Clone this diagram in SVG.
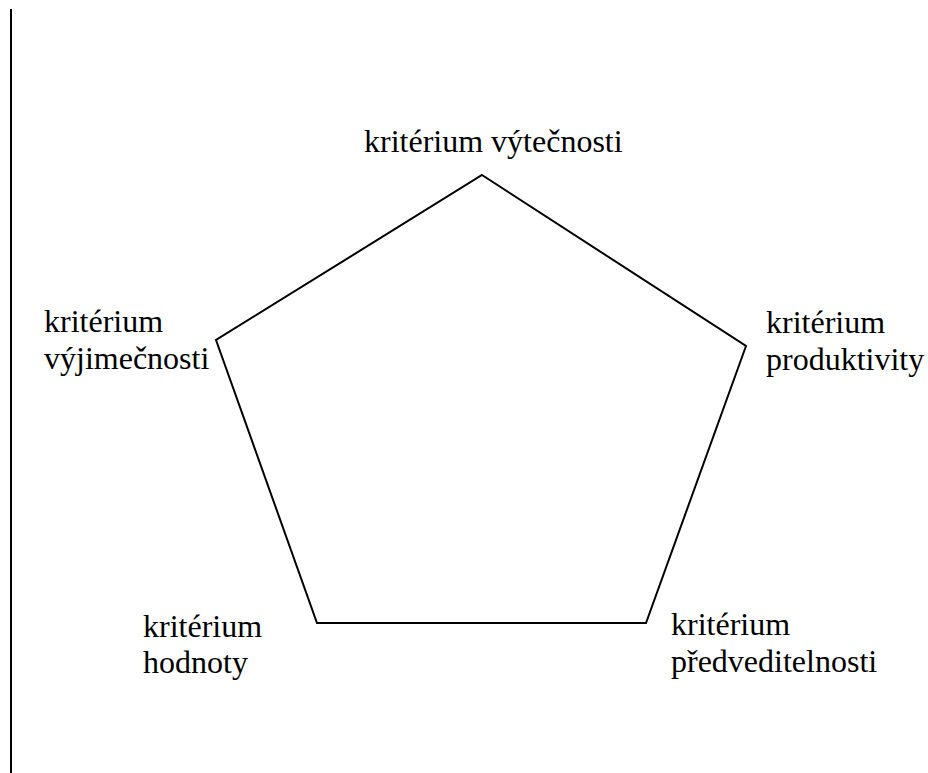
<svg xmlns="http://www.w3.org/2000/svg" width="928" height="773" viewBox="0 0 928 773">
<style>
text{font-family:"Liberation Serif","Times New Roman",serif;font-size:32px;fill:#000}
.ln{fill:none;stroke:#000;stroke-width:2}
</style>
<rect width="928" height="773" fill="#fff"/>
<line class="ln" x1="11" y1="9" x2="11" y2="773"/>
<g id="connectors">
<polygon class="ln" points="482,175 746,346 646,623 317,623 216,340"/>
</g>
<g id="top"><text x="364" y="152">kritérium výtečnosti</text></g>
<g id="left"><text x="44" y="332">kritérium</text><text x="44" y="369">výjimečnosti</text></g>
<g id="right"><text x="766" y="333">kritérium</text><text x="766" y="370">produktivity</text></g>
<g id="bottomleft"><text x="143" y="637">kritérium</text><text x="143" y="673">hodnoty</text></g>
<g id="bottomright"><text x="671" y="635">kritérium</text><text x="671" y="672">předveditelnosti</text></g>
</svg>
